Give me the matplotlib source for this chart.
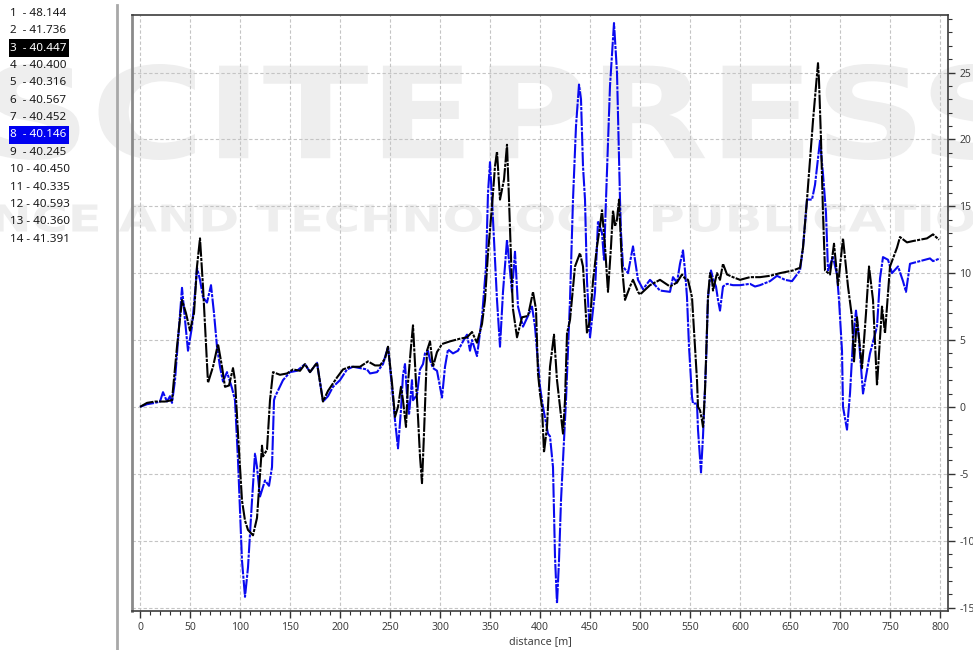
import matplotlib
matplotlib.use("Agg")
import matplotlib.pyplot as plt
from matplotlib.patches import Rectangle, PathPatch
from matplotlib.textpath import TextPath
from matplotlib.font_manager import FontProperties
from matplotlib.transforms import Affine2D
from matplotlib.ticker import MultipleLocator, FuncFormatter

plt.rcParams["font.family"] = ["Noto Sans", "DejaVu Sans"]
plt.rcParams["axes.unicode_minus"] = False

# Lap list shown in the side panel
lap_numbers = list(range(1, 15))
lap_times = [48.144, 41.736, 40.447, 40.400, 40.316, 40.567, 40.452,
             40.146, 40.245, 40.450, 40.335, 40.593, 40.360, 41.391]
highlight = {3: "#000000", 8: "#0000f0"}

# Lap 3 (black)
lap3_dist = [0, 7, 15, 25, 32, 37, 42, 46, 50, 54, 57, 60, 63, 68, 73, 78, 82, 85, 89, 93,
             95, 98, 102, 105, 108, 113, 117, 120, 122, 123, 127, 130, 133, 140, 147, 153,
             160, 165, 170, 177, 183, 188, 197, 203, 210, 220, 228, 235, 240, 245, 248, 252,
             255, 258, 261, 263, 266, 268, 271, 273, 276, 278, 280, 282, 284, 286, 287, 290,
             293, 297, 302, 310, 320, 327, 332, 337, 342, 345, 348, 352, 355, 357, 360, 364,
             367, 369, 372, 373, 377, 382, 388, 393, 396, 398, 400, 402, 404, 407, 410, 414,
             417, 420, 423, 425, 427, 430, 435, 440, 443, 447, 450, 453, 457, 460, 462, 465,
             468, 471, 473, 475, 477, 479, 482, 485, 490, 493, 498, 500, 510, 520, 530, 537,
             542, 545, 548, 552, 555, 557, 558, 560, 562, 563, 565, 567, 568, 570, 572, 573,
             577, 580, 583, 587, 593, 600, 610, 620, 630, 640, 653, 660, 663, 667, 673, 678,
             679, 681, 683, 685, 690, 694, 698, 703, 708, 712, 714, 717, 722, 726, 729, 733,
             737, 742, 745, 750, 757, 760, 767, 773, 780, 787, 793, 799]
lap3_gain = [0.0, 0.3, 0.4, 0.4, 0.5, 4.5, 8.0, 7.0, 5.7, 7.0, 10.5, 12.6, 9.0, 1.8, 3.0, 4.7,
             3.0, 1.5, 1.6, 2.9, 2.0, -2.0, -7.0, -8.5, -9.2, -9.6, -8.3, -5.0, -2.9, -3.7,
             -3.2, 0.5, 2.6, 2.4, 2.5, 2.8, 2.7, 3.2, 2.6, 3.3, 0.4, 1.2, 2.2, 2.8, 3.0, 3.0,
             3.4, 3.1, 3.1, 3.6, 4.5, 1.8, -0.75, 0.0, 1.5, 0.5, -1.5, 1.8, 4.5, 6.1, 1.8,
             -0.75, -3.7, -5.7, -2.0, 2.2, 4.2, 4.9, 3.0, 4.1, 4.7, 4.9, 5.1, 5.2, 5.6, 4.8,
             6.2, 8.0, 11.5, 15.0, 18.0, 19.1, 15.5, 17.0, 19.6, 15.5, 9.0, 7.3, 5.2, 6.7,
             6.8, 8.6, 7.3, 2.5, 1.0, 0.0, -3.4, -1.5, 3.0, 5.4, 2.0, 0.0, -2.0, 0.5, 5.5,
             6.5, 10.5, 11.5, 10.5, 5.5, 6.5, 9.4, 12.0, 13.5, 14.7, 12.0, 8.6, 12.0, 14.7,
             13.5, 14.0, 15.5, 10.5, 8.0, 9.0, 9.5, 8.6, 8.4, 9.1, 9.5, 9.0, 9.3, 9.9, 9.6,
             9.5, 8.2, 4.5, 2.0, 0.0, -0.25, -1.0, -1.5, 1.2, 5.7, 8.2, 10.0, 9.5, 8.7, 10.0,
             9.5, 10.7, 9.9, 9.7, 9.5, 9.7, 9.7, 9.8, 10.0, 10.2, 10.4, 11.9, 15.5, 21.4,
             25.7, 24.4, 20.0, 14.5, 10.2, 9.9, 12.2, 9.1, 12.6, 9.0, 6.7, 3.4, 6.7, 2.9,
             7.0, 10.5, 8.0, 1.6, 7.5, 5.5, 10.5, 11.9, 12.7, 12.3, 12.4, 12.5, 12.6, 12.9,
             12.5]

# Lap 8 (blue)
lap8_dist = [0, 7, 15, 20, 23, 27, 30, 32, 35, 38, 42, 45, 48, 52, 55, 57, 60, 63, 67, 71,
             74, 77, 80, 83, 87, 92, 95, 98, 102, 105, 108, 110, 112, 115, 117, 120, 125,
             129, 132, 134, 135, 143, 150, 157, 165, 170, 177, 183, 188, 193, 200, 207, 213,
             220, 227, 230, 237, 243, 248, 252, 255, 258, 261, 263, 265, 267, 269, 272, 273,
             277, 280, 283, 285, 288, 290, 293, 297, 300, 302, 305, 308, 313, 318, 323, 327,
             330, 332, 337, 342, 346, 348, 350, 352, 355, 357, 360, 363, 367, 372, 375, 378,
             383, 388, 392, 395, 400, 403, 408, 410, 413, 415, 417, 419, 421, 424, 426, 430,
             433, 436, 439, 441, 443, 445, 447, 450, 455, 458, 462, 464, 466, 470, 474, 477,
             480, 481, 483, 488, 493, 498, 503, 510, 520, 530, 533, 537, 540, 543, 545, 547,
             549, 552, 553, 557, 558, 561, 563, 566, 568, 571, 573, 576, 578, 580, 583, 587,
             593, 600, 610, 615, 620, 630, 637, 645, 652, 660, 663, 667, 672, 675, 680, 683,
             686, 688, 693, 697, 699, 702, 703, 707, 710, 713, 716, 719, 723, 730, 737, 740,
             743, 748, 752, 758, 763, 766, 770, 780, 790, 793, 800]
lap8_gain = [0.0, 0.2, 0.3, 0.4, 1.1, 0.4, 0.8, 0.3, 2.0, 5.0, 8.9, 6.5, 4.2, 6.0, 8.5, 10.4,
             9.5, 8.2, 7.8, 9.1, 7.0, 4.5, 3.0, 1.9, 2.6, 1.4, 0.5, -4.0, -11.5, -14.2, -12.0,
             -9.5, -7.0, -3.5, -4.5, -6.7, -5.5, -5.9, -4.5, 0.5, 0.75, 2.0, 2.6, 2.7, 3.2,
             2.6, 3.3, 0.4, 0.8, 1.5, 2.0, 2.8, 3.0, 2.9, 2.8, 2.5, 2.6, 3.2, 4.5, 1.5, -1.0,
             -3.1, -0.2, 2.4, 3.2, 0.9, -0.6, 2.0, 0.5, 0.9, 2.8, 3.2, 4.0, 4.2, 3.5, 2.9,
             2.7, 1.5, 0.7, 3.0, 4.3, 4.0, 4.2, 4.9, 5.4, 4.2, 5.0, 3.8, 6.7, 10.5, 16.0,
             18.3, 15.5, 11.0, 8.0, 4.5, 8.6, 12.5, 8.6, 11.6, 7.5, 6.0, 6.8, 7.5, 6.0, 1.5,
             0.0, -2.0, -2.2, -4.5, -11.2, -14.7, -11.5, -7.0, -2.5, 0.5, 8.0, 15.5, 21.0,
             24.1, 23.0, 18.0, 15.5, 9.4, 5.2, 8.6, 13.9, 13.0, 11.0, 15.5, 24.0, 28.7, 25.0,
             15.5, 13.0, 10.5, 10.0, 12.0, 9.5, 8.8, 9.5, 8.7, 8.6, 9.7, 9.3, 10.7, 11.7,
             10.2, 8.2, 4.5, 0.75, 0.25, 0.25, -1.7, -4.9, -2.2, 3.2, 8.2, 10.2, 9.6, 9.0,
             8.0, 7.2, 9.0, 9.2, 9.1, 9.1, 9.2, 9.0, 9.1, 9.4, 9.8, 9.5, 9.4, 10.2, 11.9,
             15.5, 15.5, 16.6, 19.9, 17.4, 14.5, 10.2, 11.2, 9.9, 8.0, 4.2, 0.0, -1.7, 1.0,
             5.0, 7.2, 5.0, 1.0, 4.0, 6.0, 9.6, 11.2, 11.0, 10.0, 10.5, 9.4, 8.6, 10.7, 10.9,
             11.1, 10.9, 11.1]

W, H = 973, 650
fig = plt.figure(figsize=(W / 100, H / 100), dpi=100)
fig.patch.set_facecolor("white")


def px(x, y):
    """Figure-pixel (origin top-left) to figure fraction."""
    return x / W, 1 - y / H


# Faint publisher watermark behind everything
def watermark(text, x0, y0, x1, y1):
    tp = TextPath((0, 0), text, prop=FontProperties(family="DejaVu Sans", weight="bold"), size=100)
    ext = tp.get_extents()
    fx0, fy1 = px(x0, y0)
    fx1, fy0 = px(x1, y1)
    tr = (Affine2D().translate(-ext.x0, -ext.y0)
          .scale((fx1 - fx0) / ext.width, (fy1 - fy0) / ext.height)
          .translate(fx0, fy0))
    patch = PathPatch(tr.transform_path(tp), transform=fig.transFigure,
                      facecolor="#eeeeee", edgecolor="none", zorder=-5)
    fig.add_artist(patch)


watermark("SCITEPRESS", -10, 64, 1020, 160)
watermark("SCIENCE AND TECHNOLOGY PUBLICATIONS", -130, 204, 1050, 232)

# Main plot area
l, t = px(132, 15)
r, b = px(948, 611)
ax = fig.add_axes([l, b, r - l, t - b])
ax.set_facecolor("none")

ls = (0, (7, 0.6, 1.5, 0.6))
ax.plot(lap8_dist, lap8_gain, color="#0a0af0", lw=1.5, linestyle=ls, zorder=3)
ax.plot(lap3_dist, lap3_gain, color="#000000", lw=1.5, linestyle=ls, zorder=4)

ax.set_xlim(-8, 808)
ax.set_ylim(-15.26, 29.3)

ax.xaxis.set_major_locator(MultipleLocator(50))
ax.xaxis.set_minor_locator(MultipleLocator(10))
ax.yaxis.set_major_locator(MultipleLocator(5))
ax.yaxis.set_minor_locator(MultipleLocator(1))
ax.yaxis.tick_right()
ax.yaxis.set_major_formatter(FuncFormatter(lambda v, p: f"{int(round(v))}"))

ax.grid(True, which="major", color="#c4c4c4", linestyle=(0, (3, 2)), lw=0.8, zorder=1)
ax.tick_params(axis="both", which="major", length=5, width=1, color="#333333",
               labelsize=7.5, labelcolor="#404040", pad=3)
ax.tick_params(axis="both", which="minor", length=3, width=0.8, color="#333333")
ax.tick_params(axis="y", which="both", left=False, right=True)

for side in ("top", "bottom", "right"):
    ax.spines[side].set_color("#3c3c3c")
    ax.spines[side].set_linewidth(1.2)
ax.spines["left"].set_color("#8a8a8a")
ax.spines["left"].set_linewidth(2.0)

ax.set_xlabel("distance [m]", fontsize=7.8, color="#404040", labelpad=2)

# Side panel with lap times
fig.add_artist(plt.Line2D([117 / W, 117 / W], [0, 1 - 5 / H], transform=fig.transFigure,
                          color="#a8a8a8", lw=2))
row_y0, row_step = 13.3, 17.38
for i, (lap, tm) in enumerate(zip(lap_numbers, lap_times)):
    yc = row_y0 + i * row_step
    gap = "  " if lap < 10 else " "
    label = f"{lap}{gap}- {tm:.3f}"
    color = "#1a1a1a"
    if lap in highlight:
        bx, by = px(9, yc + 9)
        fig.add_artist(Rectangle((bx, by), 60 / W, 18 / H, transform=fig.transFigure,
                                 facecolor=highlight[lap], edgecolor="none"))
        color = "white"
    tx, ty = px(10, yc)
    fig.text(tx, ty, label, fontsize=8.4, color=color, va="center", ha="left")

fig.savefig("out.png", dpi=100, facecolor="white")
